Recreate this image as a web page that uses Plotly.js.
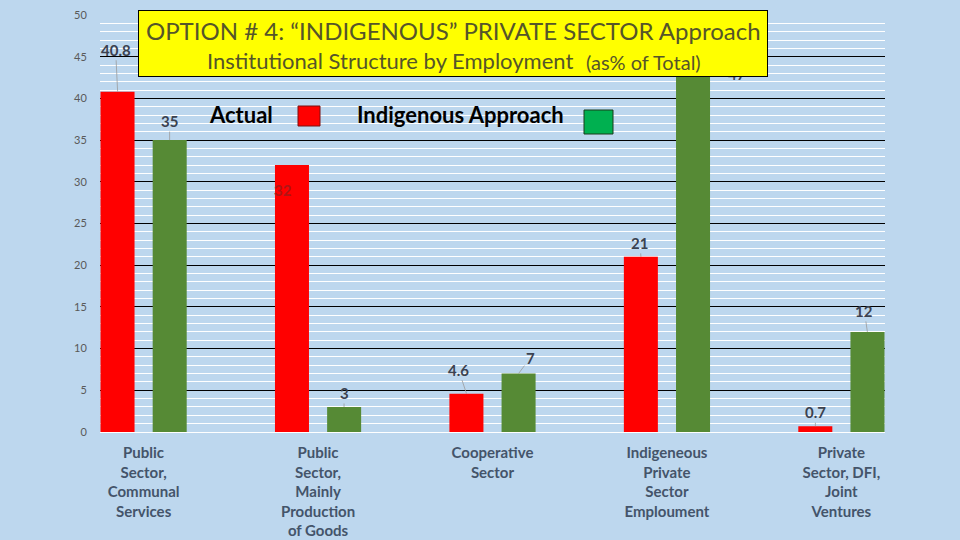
<!DOCTYPE html>
<html><head><meta charset="utf-8">
<script src="https://cdn.plot.ly/plotly-3.0.1.min.js"></script>
<style>html,body{margin:0;padding:0;background:#bdd7ee;}</style>
</head><body>
<div id="chart" style="width:960px;height:540px;"></div>
<script>
// ---- data ----
const categories = ["Public<br>Sector,<br>Communal<br>Services", "Public<br>Sector,<br>Mainly<br>Production<br>of Goods", "Cooperative<br>Sector", "Indigeneous<br>Private<br>Sector<br>Emploument", "Private<br>Sector, DFI,<br>Joint<br>Ventures"];
const actual = [40.8, 32, 4.6, 21, 0.7];
const indigenous = [35, 3, 7, 47, 12];
const seriesNames = ["Actual", "Indigenous Approach"];
const yTicks = [0, 5, 10, 15, 20, 25, 30, 35, 40, 45, 50];
const titleLine1 = "OPTION # 4: \u201CINDIGENOUS\u201D PRIVATE SECTOR Approach";
const titleLine2 = "Institutional Structure by Employment";
const titleLine2b = "(as% of Total)";

// ---- style / layout helpers ----
const L = 100, R = 885, T = 15, B = 432;
const px = x => (x - L) / (R - L);
const py = y => (B - y) / (B - T);
const idx = categories.map((_, i) => i);
const FONT = "Lato, 'Open Sans', sans-serif";

const traces = [
  {type: 'bar', x: idx, y: actual, name: seriesNames[0], marker: {color: '#ff0000'},
   width: 0.195, offset: -0.247, hoverinfo: 'none'},
  {type: 'bar', x: idx, y: indigenous, name: seriesNames[1], marker: {color: '#568a35'},
   width: 0.195, offset: 0.052, hoverinfo: 'none'}
];

// label placement offsets (pixels) – style only
const redOff = [[-2, -42], [-9, 25], [-8, -24], [-1, -14], [0, -14]];
const greenOff = [[0, -19], [0, -14], [12, -16], [44, 34], [-3, -21]];

const annotations = [];
actual.forEach((v, i) => {
  annotations.push({x: i, y: v, xref: 'x', yref: 'y', xshift: -26, text: String(v),
    showarrow: true, arrowhead: 0, arrowwidth: 0.8, arrowcolor: i === 1 ? 'rgba(0,0,0,0)' : '#9a9a9a',
    ax: redOff[i][0], ay: redOff[i][1],
    font: {family: FONT, size: 15, weight: 'bold', color: i === 1 ? '#b01515' : '#3b4250'}});
});
indigenous.forEach((v, i) => {
  annotations.push({x: i, y: v, xref: 'x', yref: 'y', xshift: 26, text: String(v),
    showarrow: true, arrowhead: 0, arrowwidth: 0.8, arrowcolor: '#9a9a9a',
    ax: greenOff[i][0], ay: greenOff[i][1],
    font: {family: FONT, size: 15, weight: 'bold', color: '#3b4250'}});
});
// title box (drawn after labels so it covers the hidden part)
annotations.push({xref: 'paper', yref: 'paper', x: px(453), y: py(43.5), xanchor: 'center', yanchor: 'middle',
  text: ' ', showarrow: false, width: 628, height: 65, bgcolor: '#ffff00', bordercolor: '#000', borderwidth: 1, borderpad: 0});
annotations.push({xref: 'paper', yref: 'paper', x: px(453), y: py(30), xanchor: 'center', yanchor: 'middle',
  text: titleLine1, showarrow: false, font: {family: FONT, size: 24, color: '#55552a'}});
annotations.push({xref: 'paper', yref: 'paper', x: px(575), y: py(61), xanchor: 'right', yanchor: 'middle',
  text: titleLine2, showarrow: false, font: {family: FONT, size: 22, color: '#55552a'}});
annotations.push({xref: 'paper', yref: 'paper', x: px(584), y: py(62), xanchor: 'left', yanchor: 'middle',
  text: titleLine2b, showarrow: false, font: {family: FONT, size: 20, color: '#55552a'}});
// legend texts
annotations.push({xref: 'paper', yref: 'paper', x: px(241), y: py(115), xanchor: 'center', yanchor: 'middle',
  text: seriesNames[0], showarrow: false, font: {family: FONT, size: 22, weight: 'bold', color: '#000'}});
annotations.push({xref: 'paper', yref: 'paper', x: px(460), y: py(115), xanchor: 'center', yanchor: 'middle',
  text: seriesNames[1], showarrow: false, font: {family: FONT, size: 22, weight: 'bold', color: '#000'}});

const shapes = [
  {type: 'rect', xref: 'paper', yref: 'paper', x0: px(298), x1: px(320), y0: py(126), y1: py(106),
   fillcolor: '#ff0000', line: {color: '#7a1010', width: 1}, layer: 'above'},
  {type: 'rect', xref: 'paper', yref: 'paper', x0: px(584), x1: px(613), y0: py(134), y1: py(110),
   fillcolor: '#00b050', line: {color: '#1a3a1a', width: 1}, layer: 'above'}
];

const layout = {
  width: 960, height: 540,
  margin: {l: L, r: 960 - R, t: T, b: 540 - B, pad: 0},
  paper_bgcolor: '#bdd7ee', plot_bgcolor: '#bdd7ee',
  showlegend: false,
  barmode: 'group',
  xaxis: {range: [-0.25, 4.25], tickvals: idx, ticktext: categories, showgrid: false, zeroline: false,
    showline: false, ticks: 'outside', ticklen: 7, tickcolor: 'rgba(0,0,0,0)',
    tickfont: {family: FONT, size: 15, weight: 'bold', color: '#44546a'}, fixedrange: true},
  yaxis: {range: [0, 50], tickvals: yTicks, showgrid: true, gridcolor: '#000000', gridwidth: 1,
    zeroline: true, zerolinecolor: '#ffffff', zerolinewidth: 1, showline: false,
    ticks: 'outside', ticklen: 10, tickcolor: 'rgba(0,0,0,0)',
    tickfont: {family: FONT, size: 11, color: '#595959'},
    minor: {dtick: 1, showgrid: true, gridcolor: '#ffffff', gridwidth: 1}, fixedrange: true},
  annotations: annotations,
  shapes: shapes
};

Plotly.newPlot('chart', traces, layout, {staticPlot: true, displayModeBar: false});
</script>
</body></html>
